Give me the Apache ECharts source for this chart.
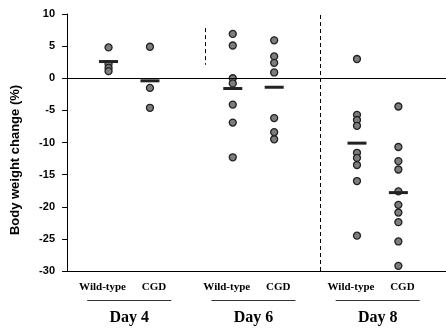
<!DOCTYPE html>
<html><head><meta charset="utf-8">
<script src="https://cdn.jsdelivr.net/npm/echarts@6/dist/echarts.min.js"></script>
<style>html,body{margin:0;padding:0;background:#fff}#c{width:446px;height:328px}</style>
</head><body><div id="c"></div>
<script>
const days = ['Day 4', 'Day 6', 'Day 8'];
const genotypes = ['Wild-type', 'CGD'];
const wt_day4 = [4.8, 2.2, 1.6, 1.1];
const cgd_day4 = [4.9, -1.5, -4.6];
const wt_day6 = [6.9, 5.1, 0.0, -0.8, -4.1, -6.9, -12.3];
const cgd_day6 = [5.9, 3.4, 2.4, 0.9, -6.2, -8.4, -9.5];
const wt_day8 = [3.0, -5.7, -6.5, -7.4, -11.6, -12.4, -13.5, -16.0, -24.5];
const cgd_day8 = [-4.4, -10.7, -12.9, -14.2, -17.6, -19.7, -20.9, -22.4, -25.4, -29.2];
const groupMeans = [2.6, -0.4, -1.6, -1.4, -10.1, -17.8];
const yMin = -30, yMax = 10, yStep = 5;
const yAxisTitle = 'Body weight change (%)';

const groups = [[wt_day4, cgd_day4], [wt_day6, cgd_day6], [wt_day8, cgd_day8]];
const groupX = (d, g) => d * 3 + g + 1;

const points = [];
const means = [];
groups.forEach((pair, d) => pair.forEach((vals, g) => {
  vals.forEach(v => points.push([groupX(d, g), v]));
  means.push([groupX(d, g), groupMeans[d * 2 + g]]);
}));

const chart = echarts.init(document.getElementById('c'), null, {renderer: 'canvas'});
const option = {
  animation: false,
  backgroundColor: '#fff',
  grid: {left: 63, right: 0, top: 14, bottom: 57},
  xAxis: {
    type: 'value', min: -0.1, max: 9.15,
    axisLine: {show: true, onZero: false, lineStyle: {color: '#000', width: 1}},
    axisTick: {show: false}, axisLabel: {show: false}, splitLine: {show: false}
  },
  yAxis: {
    type: 'value', min: yMin, max: yMax, interval: yStep,
    axisLine: {show: true, lineStyle: {color: '#000', width: 1}},
    axisTick: {show: true, length: 5, lineStyle: {color: '#000'}},
    axisLabel: {color: '#000', fontFamily: 'Liberation Sans, Arial', fontWeight: 'bold', fontSize: 11, margin: 8},
    splitLine: {show: false}
  },
  series: [
    {
      type: 'scatter', data: points, symbol: 'circle', symbolSize: 7, z: 3,
      itemStyle: {color: '#7d7d7d', borderColor: '#222', borderWidth: 1.3, opacity: 1},
      markLine: {
        silent: true, symbol: ['none', 'none'], label: {show: false},
        data: [
          {yAxis: 0, lineStyle: {color: '#000', width: 1.2, type: 'solid'}},
          {xAxis: 6.12, lineStyle: {color: '#000', width: 1, type: [4, 3]}},
          [{coord: [3.33, 7.8], lineStyle: {color: '#000', width: 1, type: [4, 3]}}, {coord: [3.33, 2.1]}]
        ]
      }
    },
    {
      type: 'scatter', data: means, symbol: 'rect', symbolSize: [19, 3], z: 4,
      itemStyle: {color: '#222', opacity: 1}
    }
  ]
};
chart.setOption(option);

const px = (x, y) => chart.convertToPixel({gridIndex: 0}, [x, y]);
const elements = [];
const serif = 'Liberation Serif, Times New Roman, serif';
days.forEach((day, d) => {
  const pW = px(groupX(d, 0), yMin)[0];
  const pC = px(groupX(d, 1), yMin)[0];
  const mid = (pW + pC) / 2;
  elements.push({type: 'text', x: pW - 6, y: 287, style: {text: genotypes[0], textAlign: 'center', textVerticalAlign: 'middle', font: 'bold 11px ' + serif, fill: '#000'}});
  elements.push({type: 'text', x: pC + 4, y: 287, style: {text: genotypes[1], textAlign: 'center', textVerticalAlign: 'middle', font: 'bold 11px ' + serif, fill: '#000'}});
  elements.push({type: 'line', shape: {x1: mid - 42, y1: 300.5, x2: mid + 42, y2: 300.5}, style: {stroke: '#333', lineWidth: 1}});
  elements.push({type: 'text', x: mid, y: 318, style: {text: day, textAlign: 'center', textVerticalAlign: 'middle', font: 'bold 16px ' + serif, fill: '#000'}});
});
elements.push({type: 'text', x: 15, y: 160, rotation: Math.PI / 2, style: {text: yAxisTitle, textAlign: 'center', textVerticalAlign: 'middle', font: 'bold 13px Liberation Sans, Arial', fill: '#000'}});
chart.setOption({graphic: elements});
</script>
</body></html>
